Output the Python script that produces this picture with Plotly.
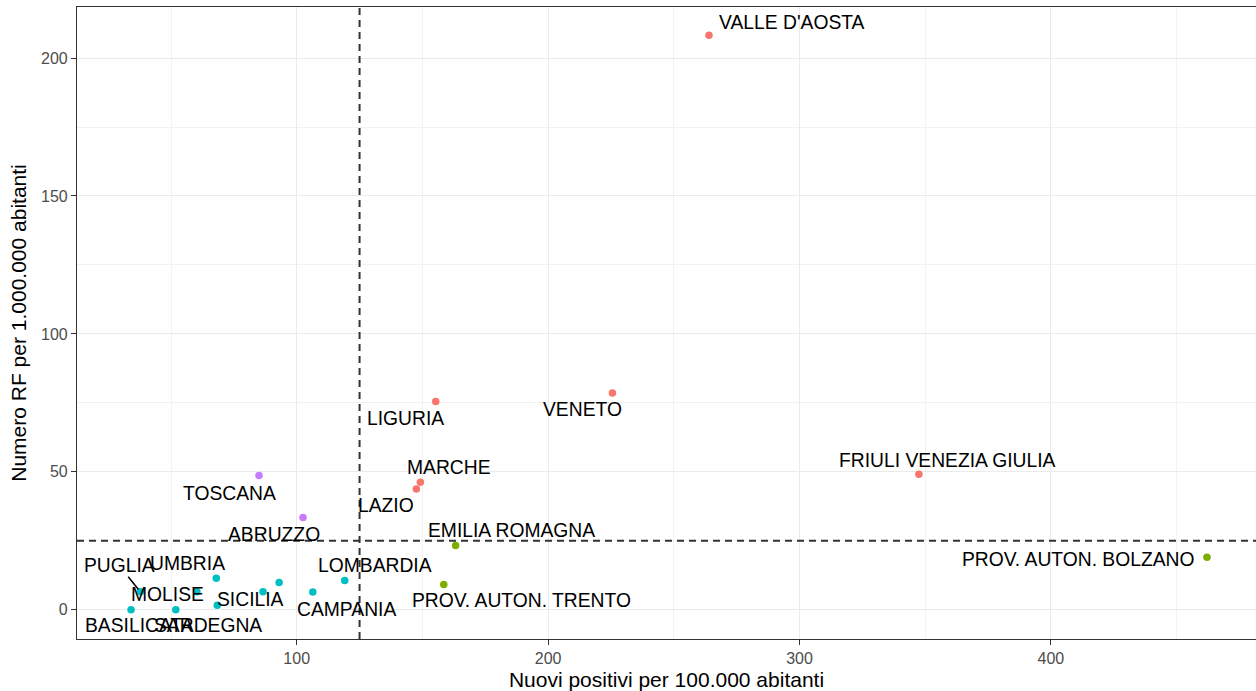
import plotly.graph_objects as go

# ---- data ----
regioni = ["VALLE D'AOSTA", "VENETO", "LIGURIA", "MARCHE", "LAZIO",
           "FRIULI VENEZIA GIULIA", "TOSCANA", "ABRUZZO",
           "EMILIA ROMAGNA", "PROV. AUTON. TRENTO", "PROV. AUTON. BOLZANO",
           "LOMBARDIA", "CAMPANIA", "UMBRIA", "PIEMONTE", "SICILIA",
           "CALABRIA", "BASILICATA", "SARDEGNA", "PUGLIA", "MOLISE"]
nuovi_positivi = [264.0, 225.6, 155.3, 149.2, 147.6,
                  347.5, 85.0, 102.5,
                  163.2, 158.5, 462.1,
                  119.1, 106.4, 68.0, 93.0, 86.6,
                  68.4, 34.1, 51.9, 37.8, 60.3]
numero_rf = [208.3, 78.6, 75.5, 46.2, 43.8,
             49.1, 48.7, 33.4,
             23.3, 9.2, 19.0,
             10.6, 6.4, 11.4, 9.9, 6.5,
             1.6, 0.0, 0.0, 6.5, 6.5]
gruppo = ["A", "A", "A", "A", "A",
          "A", "D", "D",
          "B", "B", "B",
          "C", "C", "C", "C", "C",
          "C", "C", "C", "C", "C"]
etichette = ["VALLE D'AOSTA", "VENETO", "LIGURIA", "MARCHE", "LAZIO",
             "FRIULI VENEZIA GIULIA", "TOSCANA", "ABRUZZO",
             "EMILIA ROMAGNA", "PROV. AUTON. TRENTO", "PROV. AUTON. BOLZANO",
             "LOMBARDIA", "CAMPANIA", "UMBRIA", "", "SICILIA",
             "", "BASILICATA", "SARDEGNA", "PUGLIA", "MOLISE"]
soglia_x = 125
soglia_y = 25
x_ticks = [100, 200, 300, 400]
y_ticks = [0, 50, 100, 150, 200]

# ---- style: label offsets in pixels (repel placement) ----
label_offsets = {
    "VALLE D'AOSTA": (83, -13), "VENETO": (-30, 17), "LIGURIA": (-30, 17),
    "MARCHE": (29, -15), "LAZIO": (-30, 17), "FRIULI VENEZIA GIULIA": (29, -14),
    "TOSCANA": (-30, 18), "ABRUZZO": (-29, 17), "EMILIA ROMAGNA": (56, -15),
    "PROV. AUTON. TRENTO": (78, 16), "PROV. AUTON. BOLZANO": (-128, 2),
    "LOMBARDIA": (30, -15), "CAMPANIA": (34, 17), "UMBRIA": (-29, -15),
    "SICILIA": (-13, 8), "BASILICATA": (8, 16), "SARDEGNA": (32, 16),
    "PUGLIA": (-21, -26), "MOLISE": (-29, 3),
}
segment_labels = {"PUGLIA"}
colori = {"A": "#F8766D", "B": "#7CAE00", "C": "#00BFC4", "D": "#C77CFF"}
FONT = "Liberation Sans, Arial, sans-serif"

fig = go.Figure()
for g in ["A", "B", "C", "D"]:
    idx = [i for i, v in enumerate(gruppo) if v == g]
    fig.add_trace(go.Scatter(
        x=[nuovi_positivi[i] for i in idx],
        y=[numero_rf[i] for i in idx],
        mode="markers",
        marker=dict(color=colori[g], size=7.5, line=dict(width=0)),
        text=[regioni[i] for i in idx],
        showlegend=False,
        hoverinfo="text+x+y",
    ))

fig.add_shape(type="line", xref="x", yref="paper", x0=soglia_x, x1=soglia_x,
              y0=0, y1=1, line=dict(color="#333333", width=2, dash="7px,5px"))
fig.add_shape(type="line", xref="paper", yref="y", x0=0, x1=1,
              y0=soglia_y, y1=soglia_y,
              line=dict(color="#333333", width=2, dash="7px,5px"))

for i, lab in enumerate(etichette):
    if not lab:
        continue
    dx, dy = label_offsets[lab]
    seg = lab in segment_labels
    fig.add_annotation(
        x=nuovi_positivi[i], y=numero_rf[i], text=lab,
        showarrow=True, ax=dx, ay=dy,
        arrowhead=0, arrowwidth=1.6,
        arrowcolor="black" if seg else "rgba(0,0,0,0)",
        standoff=3,
        font=dict(family=FONT, size=19.3, color="black"),
        borderpad=0,
    )

axis_common = dict(
    showline=True, linecolor="#333333", linewidth=1.2, mirror=True,
    ticks="outside", ticklen=5, tickcolor="#333333", tickwidth=1,
    gridcolor="#EBEBEB", gridwidth=1.1, zeroline=False, automargin=False,
    tickfont=dict(family=FONT, size=16, color="#4D4D4D"),
)
fig.update_xaxes(
    range=[12.6, 481.6], tickvals=x_ticks,
    minor=dict(showgrid=True, gridcolor="#F2F2F2", gridwidth=0.6, dtick=50, tick0=0),
    title=dict(text="Nuovi positivi per 100.000 abitanti",
               font=dict(family=FONT, size=21, color="black"), standoff=6),
    **axis_common,
)
fig.update_yaxes(
    range=[-10.6, 218.5], tickvals=y_ticks,
    minor=dict(showgrid=True, gridcolor="#F2F2F2", gridwidth=0.6, dtick=25, tick0=0),
    title=dict(text="Numero RF per 1.000.000 abitanti",
               font=dict(family=FONT, size=21, color="black"), standoff=8),
    **axis_common,
)
fig.update_layout(
    width=1256, height=691,
    margin=dict(l=77, r=0, t=7, b=52),
    plot_bgcolor="white", paper_bgcolor="white",
    showlegend=False,
)
fig.write_html("out.html", config={"displayModeBar": False},
               post_script="document.body.style.margin='0';document.body.style.overflow='hidden';")
